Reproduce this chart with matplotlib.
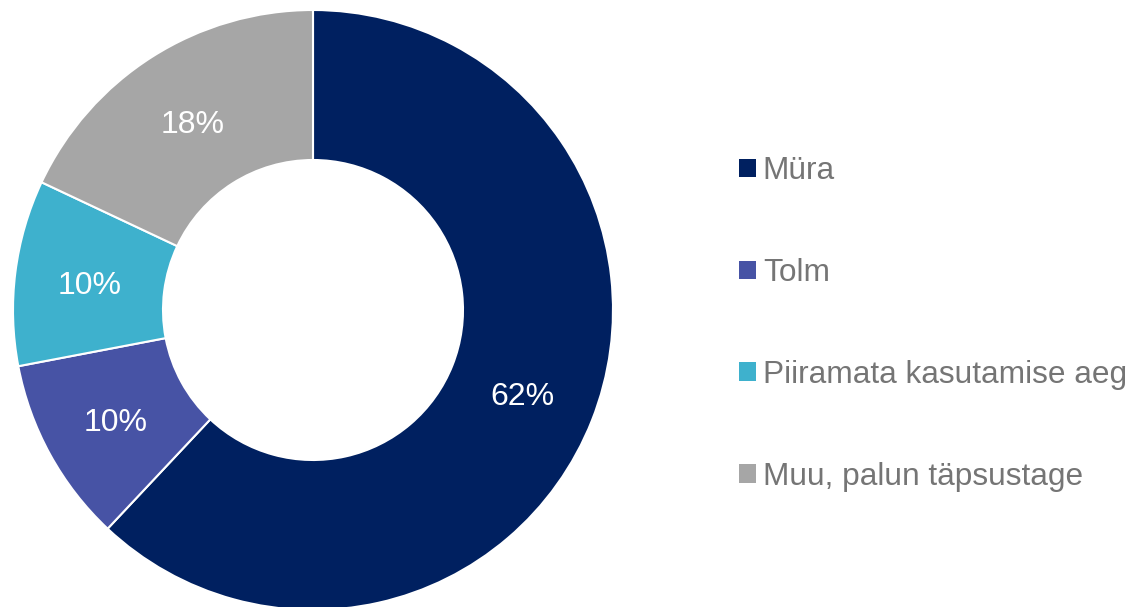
import matplotlib
matplotlib.use("Agg")
import matplotlib.pyplot as plt
from matplotlib.patches import Patch

categories = ["Müra", "Tolm", "Piiramata kasutamise aeg", "Muu, palun täpsustage"]
values = [62, 10, 10, 18]
colors = ["#002060", "#4753A5", "#3EB1CD", "#A6A6A6"]

plt.rcParams['font.family'] = ['Liberation Sans', 'DejaVu Sans']

W, H = 1136, 607
fig = plt.figure(figsize=(W / 100, H / 100), dpi=100)
cx, cy, r = 313, 310, 300
ax = fig.add_axes([(cx - r) / W, (H - cy - r) / H, 2 * r / W, 2 * r / H])
wedges, texts, autotexts = ax.pie(
    values, colors=colors, startangle=90, counterclock=False, radius=1.0,
    wedgeprops=dict(width=0.5, edgecolor="white", linewidth=1.5),
    autopct=lambda p: f"{p:.0f}%", pctdistance=0.75,
    textprops=dict(color="white", fontsize=23))
for t in autotexts:
    x, y = t.get_position()
    t.set_position((x, y - 0.015))
ax.set_xlim(-1, 1)
ax.set_ylim(-1, 1)
ax.set_aspect("equal")
ax.axis("off")

handles = [Patch(facecolor=c, edgecolor="none") for c in colors]
leg = fig.legend(handles, categories, loc="center left",
                 bbox_to_anchor=(739 / W, (H - 324) / H), frameon=False,
                 fontsize=22.8, labelcolor="#757575", handlelength=0.53,
                 handleheight=0.53, handletextpad=0.22, labelspacing=2.27,
                 borderpad=0, borderaxespad=0)

fig.savefig("out.png", dpi=100)
